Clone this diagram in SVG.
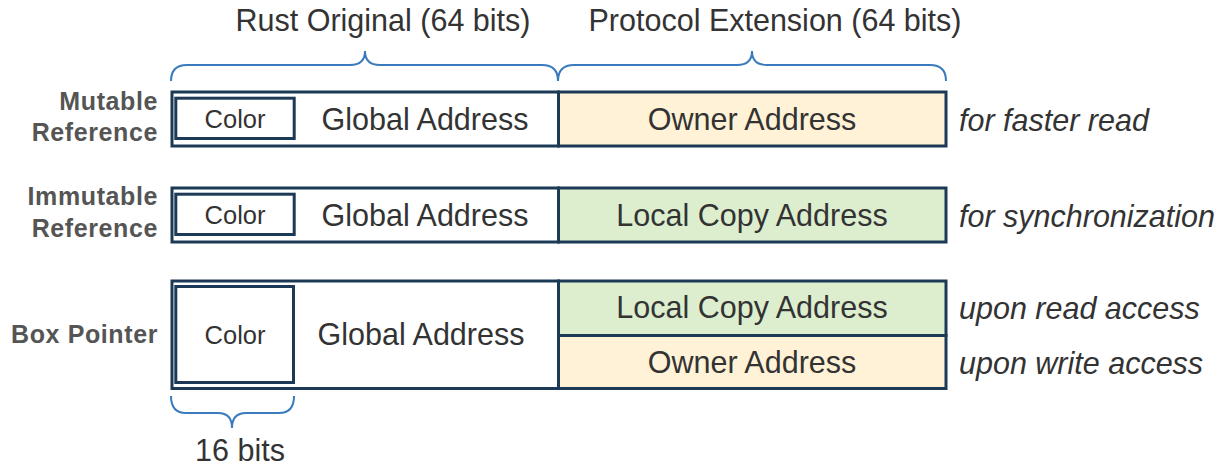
<svg xmlns="http://www.w3.org/2000/svg" width="1228" height="467" viewBox="0 0 1228 467">
  <style>
    .field { fill: #ffffff; stroke: #1c3a56; stroke-width: 3; }
    .owner { fill: #fff2d6; stroke: #1c3a56; stroke-width: 3; }
    .local { fill: #ddeecf; stroke: #1c3a56; stroke-width: 3; }
    .brace { fill: none; stroke: #3a7bbd; stroke-width: 2; }
    .t { font-family: "Liberation Sans", Arial, sans-serif; fill: #333333; font-size: 30.5px; }
    .c { text-anchor: middle; }
    .small { font-size: 25.5px; }
    .note { font-style: italic; }
    .kind { font-family: "Liberation Sans", Arial, sans-serif; font-weight: bold; font-size: 25px; fill: #555555; text-anchor: end; letter-spacing: 0.6px; }
  </style>

  <!-- width annotations -->
  <g id="connectors">
    <path class="brace" d="M171,81 Q171,65 187,65 L350,65 Q365,65 365,51 Q365,65 380,65 L542,65 Q558,65 558,81"/>
    <path class="brace" d="M558,81 Q558,65 574,65 L737,65 Q752,65 752,51 Q752,65 767,65 L930,65 Q946,65 946,81"/>
    <path class="brace" d="M171,396 Q171,413 186,413 L218,413 Q232,413 232,428 Q232,413 246,413 L279,413 Q294,413 294,396"/>
  </g>
  <text class="t c" x="383" y="31">Rust Original (64 bits)</text>
  <text class="t c" x="775" y="31">Protocol Extension (64 bits)</text>
  <text class="t c" x="240" y="461">16 bits</text>

  <!-- mutable reference -->
  <g id="mutable-reference">
    <text class="kind" x="158" y="110">Mutable</text>
    <text class="kind" x="158" y="141">Reference</text>
    <rect class="field" x="172" y="92" width="386.5" height="54"/>
    <rect class="owner" x="558.5" y="92" width="387.5" height="54"/>
    <rect class="field" x="175.8" y="98.2" width="118.4" height="40.3"/>
    <text class="t c small" x="235" y="127.5">Color</text>
    <text class="t c" x="425" y="129.5">Global Address</text>
    <text class="t c" x="752" y="129.5">Owner Address</text>
    <text class="t note" x="959" y="131">for faster read</text>
  </g>

  <!-- immutable reference -->
  <g id="immutable-reference">
    <text class="kind" x="158" y="205">Immutable</text>
    <text class="kind" x="158" y="237">Reference</text>
    <rect class="field" x="172" y="188" width="386.5" height="54"/>
    <rect class="local" x="558.5" y="188" width="387.5" height="54"/>
    <rect class="field" x="175.8" y="194.2" width="118.4" height="40.3"/>
    <text class="t c small" x="235" y="223.5">Color</text>
    <text class="t c" x="425" y="225.5">Global Address</text>
    <text class="t c" x="752" y="225.5">Local Copy Address</text>
    <text class="t note" x="959" y="227">for synchronization</text>
  </g>

  <!-- box pointer -->
  <g id="box-pointer">
    <text class="kind" x="158" y="343">Box Pointer</text>
    <rect class="field" x="172" y="281" width="386.5" height="107.5"/>
    <rect class="local" x="558.5" y="281" width="387.5" height="54.5"/>
    <rect class="owner" x="558.5" y="335.5" width="387.5" height="53"/>
    <rect class="field" x="175.8" y="286.5" width="117.7" height="96"/>
    <text class="t c small" x="235" y="344">Color</text>
    <text class="t c" x="421" y="345">Global Address</text>
    <text class="t c" x="752" y="317.5">Local Copy Address</text>
    <text class="t c" x="752" y="372.5">Owner Address</text>
    <text class="t note" x="959" y="319">upon read access</text>
    <text class="t note" x="959" y="374">upon write access</text>
  </g>
</svg>
